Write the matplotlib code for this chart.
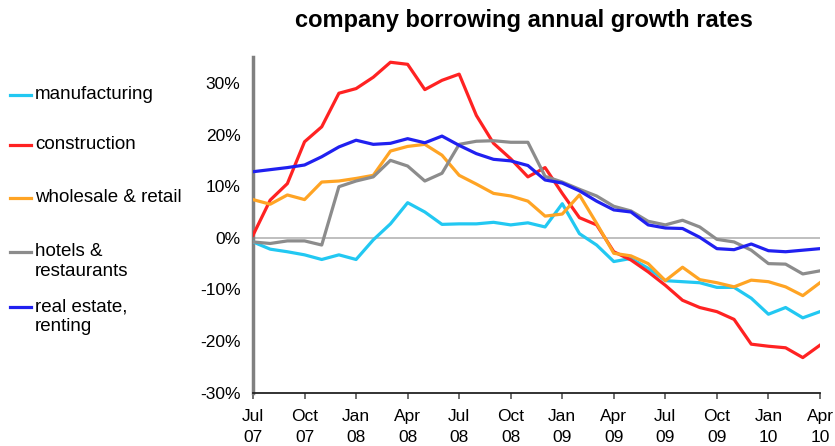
import matplotlib
matplotlib.use("Agg")
import matplotlib.pyplot as plt
from matplotlib.lines import Line2D
import numpy as np

plt.rcParams['font.family'] = ['Liberation Sans', 'DejaVu Sans']

# monthly, Jul 07 .. Apr 10
months = np.arange(34)
tick_labels = ["Jul\n07", "Oct\n07", "Jan\n08", "Apr\n08", "Jul\n08", "Oct\n08",
               "Jan\n09", "Apr\n09", "Jul\n09", "Oct\n09", "Jan\n10", "Apr\n10"]

manufacturing = [-0.8, -2.2, -2.7, -3.3, -4.2, -3.3, -4.2, -0.4, 2.7, 6.8, 5.0, 2.6,
                 2.7, 2.7, 3.0, 2.5, 2.9, 2.1, 6.6, 0.8, -1.4, -4.6, -4.0, -5.9,
                 -8.3, -8.5, -8.7, -9.6, -9.6, -11.7, -14.8, -13.5, -15.5, -14.3]
construction = [0.5, 7.3, 10.5, 18.6, 21.5, 28.0, 28.9, 31.1, 34.0, 33.6, 28.7, 30.5,
                31.7, 23.7, 18.3, 15.3, 11.8, 13.6, 8.6, 3.9, 2.5, -2.7, -4.3, -6.6,
                -9.2, -12.1, -13.5, -14.3, -15.8, -20.6, -21.0, -21.3, -23.2, -20.8]
wholesale = [7.4, 6.5, 8.3, 7.4, 10.8, 11.0, 11.5, 12.1, 16.8, 17.7, 18.1, 16.0,
             12.1, 10.4, 8.6, 8.1, 7.1, 4.2, 4.6, 8.3, 2.8, -3.0, -3.5, -5.0,
             -8.3, -5.7, -8.1, -8.7, -9.5, -8.2, -8.5, -9.5, -11.2, -8.7]
hotels = [-0.8, -1.1, -0.6, -0.6, -1.4, 9.9, 11.0, 11.8, 15.0, 13.9, 11.0, 12.5,
          18.1, 18.7, 18.8, 18.5, 18.5, 11.9, 10.8, 9.4, 8.1, 6.1, 5.2, 3.2,
          2.5, 3.4, 2.1, -0.3, -0.8, -2.4, -5.0, -5.1, -7.0, -6.4]
real_estate = [12.8, 13.2, 13.6, 14.1, 15.7, 17.6, 18.9, 18.1, 18.3, 19.2, 18.4, 19.7,
               17.9, 16.3, 15.2, 14.9, 14.0, 11.2, 10.6, 9.1, 7.1, 5.4, 5.0, 2.5,
               1.9, 1.8, 0.1, -2.1, -2.3, -1.2, -2.5, -2.7, -2.4, -2.1]

series = [
    ("manufacturing", manufacturing, "#22c8f2"),
    ("construction", construction, "#ff2222"),
    ("wholesale & retail", wholesale, "#ffa424"),
    ("hotels &\nrestaurants", hotels, "#8c8c8c"),
    ("real estate,\nrenting", real_estate, "#2020f0"),
]

fig = plt.figure(figsize=(8.35, 4.46), dpi=100)
ax = fig.add_axes([0.303, 0.1195, 0.679, 0.7525])

ax.axhline(0, color="#b4b4b4", lw=1.2, zorder=1)
for name, vals, col in series:
    ax.plot(months, vals, color=col, lw=2.3, solid_joinstyle="round", zorder=3)

ax.set_xlim(0, 33)
ax.set_ylim(-30, 35)
ax.set_yticks(np.arange(-30, 31, 10))
ax.set_yticklabels([f"{v}%" for v in range(-30, 31, 10)], fontsize=12.5)
ax.tick_params(axis="y", length=0, pad=9)
ax.set_xticks(np.arange(0, 34, 3))
ax.set_xticklabels(tick_labels, fontsize=12.5, linespacing=1.45)
ax.tick_params(axis="x", direction="out", length=4, width=1.2, color="#555555", pad=8)

for s in ("top", "right"):
    ax.spines[s].set_visible(False)
ax.spines["left"].set_color("#808080")
ax.spines["left"].set_linewidth(2.5)
ax.spines["bottom"].set_color("#222222")
ax.spines["bottom"].set_linewidth(1.3)

fig.text(0.628, 0.953, "company borrowing annual growth rates", ha="center",
         va="center", fontsize=17, fontweight="bold")

# legend on the left, drawn by hand
legend_y = [95, 145, 198, 252, 307]
for (name, vals, col), py in zip(series, legend_y):
    yf = 1 - py / 446
    fig.add_artist(Line2D([10 / 835, 31 / 835], [yf, yf], color=col, lw=2.3))
    fig.text(35 / 835, yf + 9 / 446, name, ha="left", va="top", fontsize=13.5,
             linespacing=1.25)

fig.savefig("out.png", dpi=100)
